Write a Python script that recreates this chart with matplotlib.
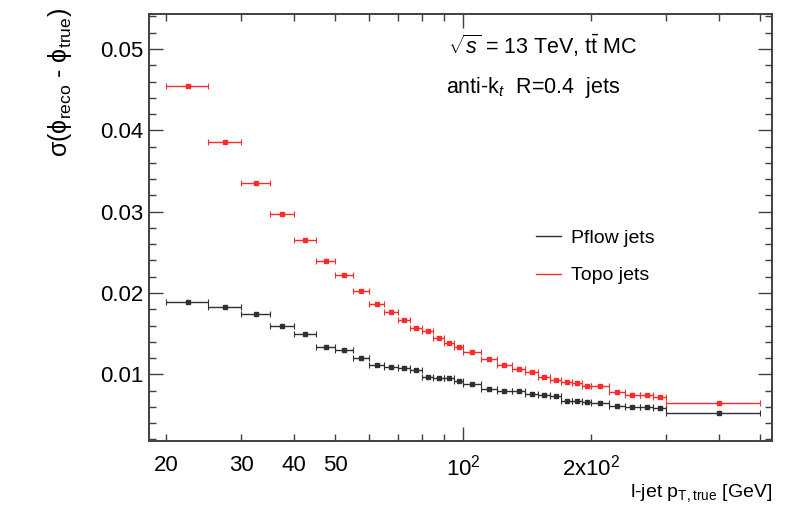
import numpy as np
import matplotlib
matplotlib.use("Agg")
import matplotlib.pyplot as plt
from matplotlib.lines import Line2D

# bin edges in true jet pT [GeV]
edges = [20, 25, 30, 35, 40, 45, 50, 55, 60, 65, 70, 75, 80, 85, 90, 95, 100,
         110, 120, 130, 140, 150, 160, 170, 180, 190, 200,
         220, 240, 260, 280, 300, 500]

# sigma(phi_reco - phi_true) per bin
topo = [0.0454, 0.0386, 0.0335, 0.0297, 0.0265, 0.0239, 0.0222, 0.0202,
        0.0187, 0.0177, 0.0167, 0.0157, 0.0153, 0.0145, 0.0138, 0.0134,
        0.0127, 0.0119, 0.0112, 0.0107, 0.0103, 0.0097, 0.0093, 0.0091,
        0.0089, 0.0086, 0.0086, 0.0078, 0.0075, 0.0074, 0.0072, 0.0065]
pflow = [0.0189, 0.0183, 0.0174, 0.0159, 0.0149, 0.0134, 0.0130, 0.0120,
         0.0112, 0.0109, 0.0108, 0.0105, 0.0097, 0.0096, 0.0095, 0.0092,
         0.0088, 0.0082, 0.0080, 0.0079, 0.0076, 0.0074, 0.0073, 0.0067,
         0.0067, 0.0066, 0.0065, 0.0061, 0.0060, 0.0060, 0.0058, 0.0052]

xtick_vals = [20, 30, 40, 50, 200]
xtick_labels = ["20", "30", "40", "50", r"2x10$^{2}$"]
ytick_vals = [0.01, 0.02, 0.03, 0.04, 0.05]

plt.rcParams['font.family'] = ['Liberation Sans', 'DejaVu Sans']
plt.rcParams['mathtext.fontset'] = 'custom'
plt.rcParams['mathtext.rm'] = 'Liberation Sans'
plt.rcParams['mathtext.it'] = 'Liberation Sans:italic'
plt.rcParams['mathtext.bf'] = 'Liberation Sans:bold'

e = np.array(edges, dtype=float)
lo = e[:-1]
hi = e[1:]
xc = (lo + hi) / 2

fig = plt.figure(figsize=(7.93, 5.15), dpi=100)
ax = fig.add_axes([149/793, 74/515, 623/793, 427/515])

ax.errorbar(xc, pflow, xerr=[xc - lo, hi - xc], fmt='s', ms=2.2,
            color='#303030', elinewidth=1.0, capsize=2, capthick=0.8)
ax.errorbar(xc, topo, xerr=[xc - lo, hi - xc], fmt='s', ms=2.2,
            color='#ff2a2a', elinewidth=1.0, capsize=2, capthick=0.8)

ax.set_xscale('log')
ax.set_xlim(18.2, 533)
ax.set_ylim(0.0018, 0.0543)

ax.set_xticks([100], labels=[r"10$^{2}$"])
minor = [20, 30, 40, 50, 60, 70, 80, 90, 200, 300, 400, 500]
ax.set_xticks(minor, labels=[xtick_labels[xtick_vals.index(m)] if m in xtick_vals else ""
                             for m in minor], minor=True)
ax.set_yticks(ytick_vals, labels=["0.01", "0.02", "0.03", "0.04", "0.05"])
ax.set_yticks(np.arange(0.002, 0.0541, 0.002), minor=True)

ax.tick_params(which='both', direction='in', top=True, right=True,
               labelsize=16, color='#404040', width=1.0)
ax.tick_params(which='major', length=10)
ax.tick_params(which='minor', length=5)
ax.tick_params(axis='y', which='both', pad=4)
ax.tick_params(axis='x', which='both', pad=10)
for s in ax.spines.values():
    s.set_linewidth(1.4)
    s.set_color('#404040')

fig.text(60/793, 1 - 8/515, r"σ(ϕ$_{\rm reco}$ - ϕ$_{\rm true}$)",
         rotation=90, ha='center', va='top', fontsize=18)
fig.text(772/793, 1 - 493/515, r"l-jet p$_{\rm T,true}$ [GeV]",
         ha='right', va='center', fontsize=14)

ax.text(448/793, 1 - 46/515, r"$\sqrt{s}$ = 13 TeV, t$\bar{\rm t}$ MC",
        transform=fig.transFigure, ha='left', va='center', fontsize=15.5)
ax.text(446/793, 1 - 87/515, r"anti-k$_{t}$  R=0.4  jets",
        transform=fig.transFigure, ha='left', va='center', fontsize=15.5)

handles = [Line2D([], [], color='#303030', lw=1.0),
           Line2D([], [], color='#ff2a2a', lw=1.0)]
ax.legend(handles, ["Pflow jets", "Topo jets"], frameon=False, fontsize=14,
          loc='center left', bbox_to_anchor=(518/793, 1 - 257/515),
          bbox_transform=fig.transFigure, handlelength=1.3, handletextpad=0.55,
          labelspacing=1.0)

fig.savefig("out.png", dpi=100)
